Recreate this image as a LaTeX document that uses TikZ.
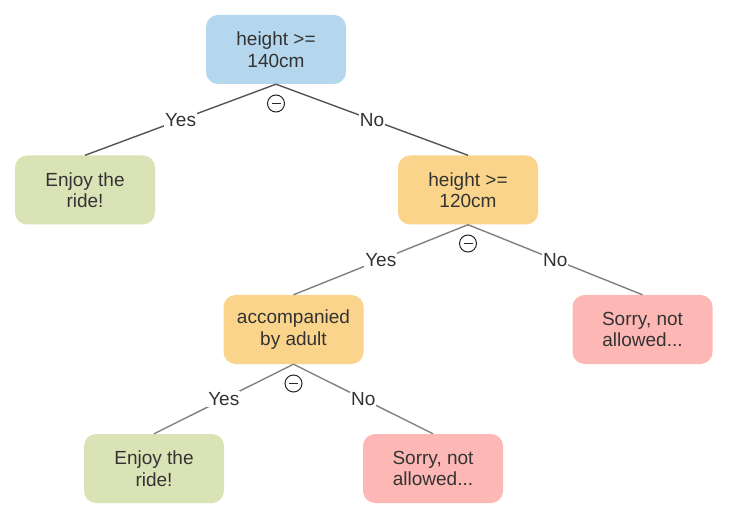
\documentclass[tikz,border=0pt]{standalone}
\usepackage{fontspec}
\setmainfont{Liberation Sans}
\definecolor{cblue}{HTML}{B5D7EE}
\definecolor{cgreen}{HTML}{DAE3B6}
\definecolor{corange}{HTML}{FAD48A}
\definecolor{cpink}{HTML}{FDB8B5}
\definecolor{ctext}{HTML}{333333}
\definecolor{edgedark}{HTML}{555555}
\definecolor{edgelight}{HTML}{808080}
\tikzset{
  box/.style={rectangle, rounded corners=12pt, minimum width=140pt, minimum height=69pt,
    align=center, text=ctext, font=\fontsize{19}{21.5}\selectfont, inner sep=2pt},
  lbl/.style={fill=white, inner sep=1pt, text=ctext, font=\fontsize{19}{21.5}\selectfont},
  edg/.style={line width=1.4pt},
  minus/.style={circle, draw=black!85, line width=1pt, minimum size=17pt, inner sep=0pt}
}
\begin{document}
\begin{tikzpicture}[x=1pt,y=-1pt]
\useasboundingbox (0,0) rectangle (730,518);
\node[box, fill=cblue] (root) at (276,49.5) {height >=\\140cm};
\node[box, fill=cgreen] (enj1) at (85,190) {Enjoy the\\ride!};
\node[box, fill=corange] (h120) at (468,190) {height >=\\120cm};
\node[box, fill=corange] (acc) at (293.5,329.5) {accompanied\\by adult};
\node[box, fill=cpink] (sor1) at (642.5,329.5) {Sorry, not\\allowed...};
\node[box, fill=cgreen] (enj2) at (154,468.5) {Enjoy the\\ride!};
\node[box, fill=cpink] (sor2) at (433,468.5) {Sorry, not\\allowed...};

\draw[edg, draw=edgedark] (root.south) -- node[lbl] {Yes} (enj1.north);
\draw[edg, draw=edgedark] (root.south) -- node[lbl] {No} (h120.north);
\draw[edg, draw=edgelight] (h120.south) -- node[lbl] {Yes} (acc.north);
\draw[edg, draw=edgelight] (h120.south) -- node[lbl] {No} (sor1.north);
\draw[edg, draw=edgelight] (acc.south) -- node[lbl] {Yes} (enj2.north);
\draw[edg, draw=edgelight] (acc.south) -- node[lbl] {No} (sor2.north);

\node[minus] (m1) at (276,103.5) {};
\node[minus] (m2) at (468,243.5) {};
\node[minus] (m3) at (293.5,383.5) {};
\foreach \m in {m1,m2,m3}{
  \draw[line width=1pt, black!85] ([xshift=-4.5pt]\m.center) -- ([xshift=4.5pt]\m.center);
}
\end{tikzpicture}
\end{document}
